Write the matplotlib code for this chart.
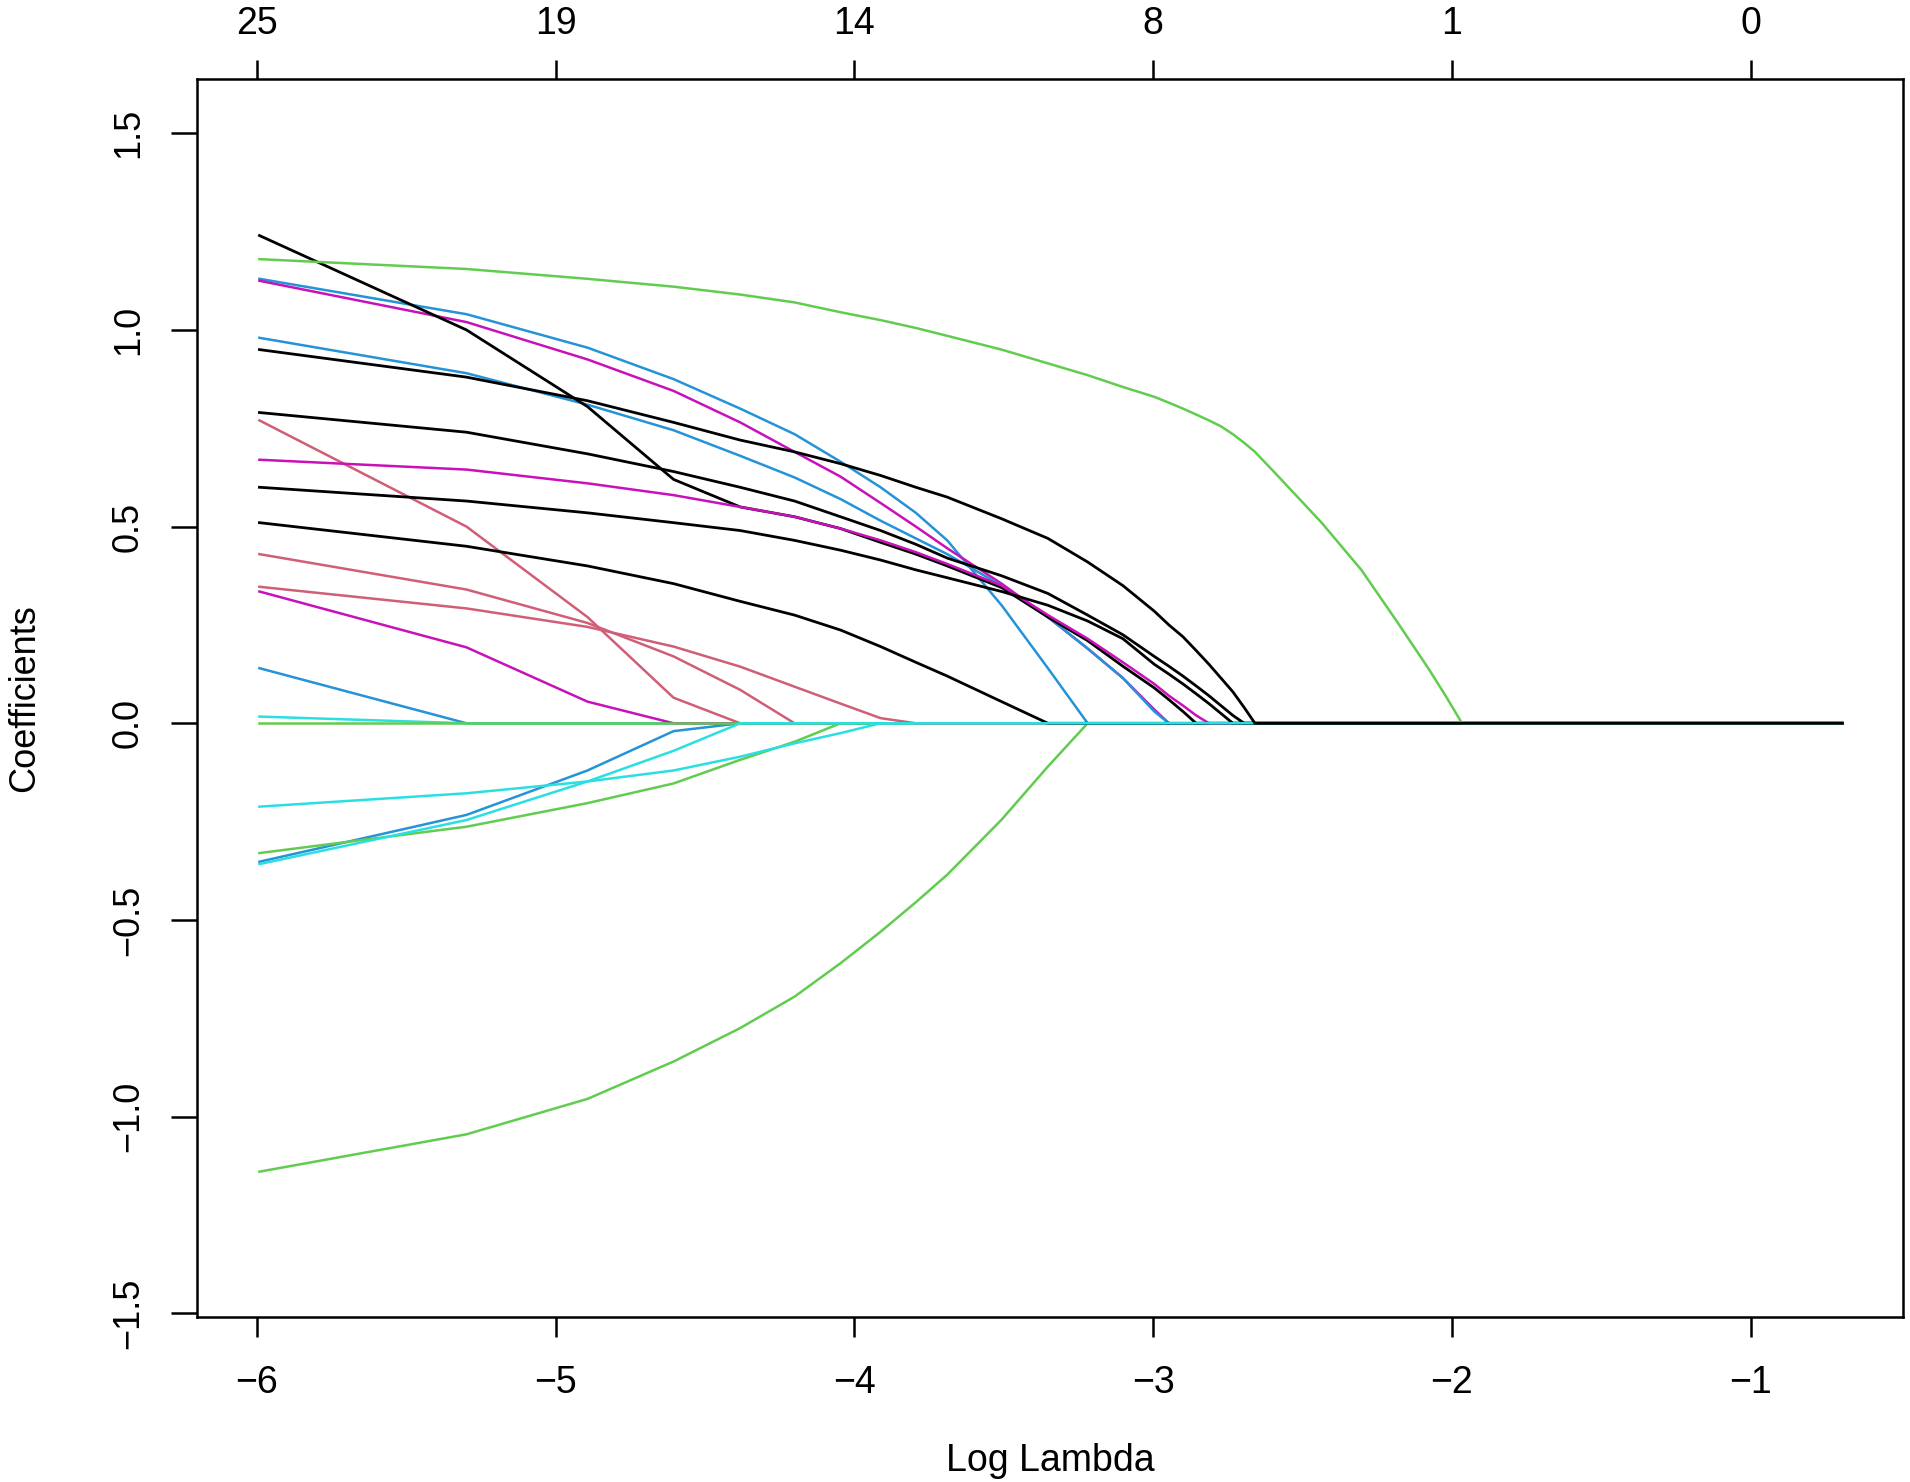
import matplotlib
matplotlib.use("Agg")
import matplotlib.pyplot as plt

plt.rcParams['font.family'] = ['Liberation Sans', 'DejaVu Sans']

# ---- data ---------------------------------------------------------------
# log(lambda) grid points at which the coefficient paths are drawn
log_lambda = [-5.991, -5.298, -4.893, -4.605, -4.382, -4.200, -4.046, -3.912,
              -3.794, -3.689, -3.507, -3.352, -3.219, -3.101, -2.996, -2.947,
              -2.900, -2.856, -2.813, -2.773, -2.733, -2.695, -2.659, -2.590,
              -2.436, -2.303, -2.185, -2.079, -2.021, -1.966, -0.693]

# number of non-zero coefficients shown on the top axis
df_ticks = [-6, -5, -4, -3, -2, -1]
df_labels = ['25', '19', '14', '8', '1', '0']

# coefficient paths (one list per variable, values at log_lambda)
green_top = [1.18, 1.155, 1.13, 1.11, 1.09, 1.07, 1.045, 1.025, 1.005, 0.985, 0.95, 0.915,
             0.885, 0.855, 0.83, 0.815, 0.80, 0.785, 0.77, 0.755, 0.735, 0.713, 0.69, 0.635,
             0.51, 0.39, 0.26, 0.14, 0.07, 0, 0]
blue_top = [1.13, 1.04, 0.955, 0.875, 0.80, 0.735, 0.665, 0.60, 0.535, 0.465, 0.30, 0.14,
            0, 0, 0, 0, 0, 0, 0, 0, 0, 0, 0, 0, 0, 0, 0, 0, 0, 0, 0]
magenta_top = [1.125, 1.02, 0.925, 0.845, 0.765, 0.69, 0.627, 0.56, 0.50, 0.445, 0.355, 0.27,
               0.19, 0.115, 0.035, 0, 0, 0, 0, 0, 0, 0, 0, 0, 0, 0, 0, 0, 0, 0, 0]
blue_second = [0.98, 0.89, 0.81, 0.745, 0.68, 0.625, 0.57, 0.515, 0.47, 0.43, 0.35, 0.27,
               0.19, 0.115, 0.03, 0, 0, 0, 0, 0, 0, 0, 0, 0, 0, 0, 0, 0, 0, 0, 0]
black_a = [0.95, 0.88, 0.82, 0.765, 0.72, 0.69, 0.66, 0.63, 0.60, 0.575, 0.52, 0.47,
           0.41, 0.35, 0.285, 0.25, 0.22, 0.185, 0.15, 0.115, 0.08, 0.04, 0, 0,
           0, 0, 0, 0, 0, 0, 0]
black_b = [1.24, 1.00, 0.805, 0.62, 0.55, 0.525, 0.495, 0.46, 0.43, 0.40, 0.345, 0.27,
           0.21, 0.145, 0.09, 0.06, 0.03, 0, 0, 0, 0, 0, 0, 0, 0, 0, 0, 0, 0, 0, 0]
magenta_mid = [0.67, 0.645, 0.61, 0.58, 0.55, 0.525, 0.495, 0.465, 0.435, 0.405, 0.35, 0.275,
               0.215, 0.155, 0.10, 0.07, 0.045, 0.02, 0, 0, 0, 0, 0, 0, 0, 0, 0, 0, 0, 0, 0]
black_c = [0.79, 0.74, 0.685, 0.64, 0.60, 0.565, 0.525, 0.49, 0.455, 0.42, 0.375, 0.33,
           0.275, 0.225, 0.17, 0.145, 0.12, 0.095, 0.07, 0.045, 0.02, 0, 0, 0,
           0, 0, 0, 0, 0, 0, 0]
black_d = [0.60, 0.565, 0.535, 0.51, 0.49, 0.465, 0.44, 0.415, 0.39, 0.37, 0.335, 0.30,
           0.26, 0.215, 0.15, 0.125, 0.10, 0.075, 0.05, 0.025, 0, 0, 0, 0,
           0, 0, 0, 0, 0, 0, 0]
black_e = [0.51, 0.45, 0.40, 0.355, 0.31, 0.275, 0.237, 0.195, 0.155, 0.12, 0.055, 0,
           0, 0, 0, 0, 0, 0, 0, 0, 0, 0, 0, 0, 0, 0, 0, 0, 0, 0, 0]
red_a = [0.77, 0.50, 0.27, 0.065, 0, 0, 0, 0, 0, 0, 0, 0, 0, 0, 0, 0,
         0, 0, 0, 0, 0, 0, 0, 0, 0, 0, 0, 0, 0, 0, 0]
red_b = [0.43, 0.34, 0.255, 0.17, 0.085, 0, 0, 0, 0, 0, 0, 0, 0, 0, 0, 0,
         0, 0, 0, 0, 0, 0, 0, 0, 0, 0, 0, 0, 0, 0, 0]
red_c = [0.347, 0.292, 0.245, 0.195, 0.144, 0.093, 0.05, 0.013, 0, 0, 0, 0, 0, 0, 0, 0,
         0, 0, 0, 0, 0, 0, 0, 0, 0, 0, 0, 0, 0, 0, 0]
magenta_low = [0.335, 0.193, 0.055, 0, 0, 0, 0, 0, 0, 0, 0, 0, 0, 0, 0, 0,
               0, 0, 0, 0, 0, 0, 0, 0, 0, 0, 0, 0, 0, 0, 0]
blue_low = [0.14, 0, 0, 0, 0, 0, 0, 0, 0, 0, 0, 0, 0, 0, 0, 0,
            0, 0, 0, 0, 0, 0, 0, 0, 0, 0, 0, 0, 0, 0, 0]
cyan_low = [0.017, 0, 0, 0, 0, 0, 0, 0, 0, 0, 0, 0, 0, 0, 0, 0,
            0, 0, 0, 0, 0, 0, 0, 0, 0, 0, 0, 0, 0, 0, 0]
green_zero = [0, 0, 0, 0, 0, 0, 0, 0, 0, 0, 0, 0, 0, 0, 0, 0,
              0, 0, 0, 0, 0, 0, 0, 0, 0, 0, 0, 0, 0, 0, 0]
cyan_neg_a = [-0.212, -0.178, -0.148, -0.12, -0.085, -0.051, -0.025, 0, 0, 0, 0, 0, 0, 0, 0, 0,
              0, 0, 0, 0, 0, 0, 0, 0, 0, 0, 0, 0, 0, 0, 0]
green_neg_a = [-0.33, -0.263, -0.203, -0.153, -0.093, -0.047, 0, 0, 0, 0, 0, 0, 0, 0, 0, 0,
               0, 0, 0, 0, 0, 0, 0, 0, 0, 0, 0, 0, 0, 0, 0]
blue_neg = [-0.352, -0.233, -0.12, -0.02, 0, 0, 0, 0, 0, 0, 0, 0, 0, 0, 0, 0,
            0, 0, 0, 0, 0, 0, 0, 0, 0, 0, 0, 0, 0, 0, 0]
cyan_neg_b = [-0.358, -0.246, -0.148, -0.07, 0, 0, 0, 0, 0, 0, 0, 0, 0, 0, 0, 0,
              0, 0, 0, 0, 0, 0, 0, 0, 0, 0, 0, 0, 0, 0, 0]
green_neg_big = [-1.14, -1.045, -0.955, -0.86, -0.775, -0.695, -0.61, -0.53, -0.455, -0.385,
                 -0.245, -0.11, 0, 0, 0, 0, 0, 0, 0, 0, 0, 0, 0, 0, 0, 0, 0, 0, 0, 0, 0]

# R default palette colours used by glmnet's plot
BLACK, RED, GREEN, BLUE, CYAN, MAGENTA = '#000000', '#CF5E76', '#61CC4F', '#2493D8', '#2ADFE2', '#C811B8'

# drawing order (later paths are on top)
paths = [
    (blue_low, BLUE), (cyan_low, CYAN), (magenta_low, MAGENTA), (red_a, RED),
    (blue_neg, BLUE), (red_b, RED), (green_neg_a, GREEN), (green_zero, GREEN),
    (cyan_neg_b, CYAN), (red_c, RED), (green_neg_big, GREEN), (blue_top, BLUE),
    (magenta_top, MAGENTA), (blue_second, BLUE), (black_e, BLACK), (black_b, BLACK),
    (magenta_mid, MAGENTA), (black_d, BLACK), (black_c, BLACK), (green_top, GREEN),
    (cyan_neg_a, CYAN), (black_a, BLACK),
]

# ---- figure ---------------------------------------------------------------
W, H = 1910, 1482
fig = plt.figure(figsize=(W / 100, H / 100), dpi=100)
L, R, T, B = 197, 1903, 79, 1317
ax = fig.add_axes([L / W, 1 - B / H, (R - L) / W, (B - T) / H])

for vals, col in paths:
    ax.plot(log_lambda, vals, color=col, lw=2.0 if col == BLACK else 1.8,
            solid_joinstyle='round')

ax.set_xlim(-6.2, -0.49)
ax.set_ylim(-1.5095, 1.638)
ax.set_xticks([-6, -5, -4, -3, -2, -1])
ax.set_yticks([-1.5, -1.0, -0.5, 0.0, 0.5, 1.0, 1.5])
ax.set_yticklabels(['\u22121.5', '\u22121.0', '\u22120.5', '0.0', '0.5', '1.0', '1.5'])
ax.set_xticklabels(['\u22126', '\u22125', '\u22124', '\u22123', '\u22122', '\u22121'])

FSH = 27   # horizontal texts
FSV = 26   # rotated texts
for s in ax.spines.values():
    s.set_linewidth(1.8)
ax.tick_params(axis='x', direction='out', length=14.4, width=1.8, pad=20, labelsize=FSH)
ax.tick_params(axis='y', direction='out', length=18.7, width=1.8, pad=18, labelsize=FSV,
               labelrotation=90)
for lab in ax.get_yticklabels():
    lab.set_va('center')

ax2 = ax.twiny()
ax2.set_xlim(ax.get_xlim())
ax2.set_xticks(df_ticks)
ax2.set_xticklabels(df_labels)
ax2.tick_params(axis='x', direction='out', length=14, width=1.8, pad=13, labelsize=FSH)
for s in ax2.spines.values():
    s.set_visible(False)

ax.set_xlabel('Log Lambda', fontsize=FSH)
ax.xaxis.set_label_coords(0.5, -(1471 - B) / (B - T))
ax.xaxis.label.set_va('baseline')
ax.set_ylabel('Coefficients', fontsize=FSV)
ax.yaxis.set_label_coords((25 - L) / (R - L), 0.5)
ax.yaxis.label.set_va('center')

fig.savefig('out.png', dpi=100, facecolor='white')
